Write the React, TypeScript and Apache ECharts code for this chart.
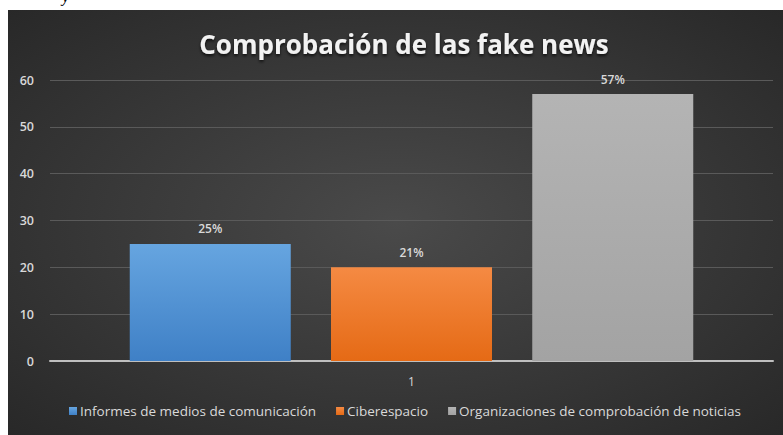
import React, { useEffect, useRef } from "react";
import * as echarts from "echarts";

const categories = ["1"];
const seriesNames = [
  "Informes de medios de comunicación",
  "Ciberespacio",
  "Organizaciones de comprobación de noticias",
];
const seriesValues = [25, 20, 57];
const seriesLabels = ["25%", "21%", "57%"];
const yTicks = { min: 0, max: 60, interval: 10 };

const palette = [
  ["#66a5e0", "#3f80c6"],
  ["#f58a43", "#e56a15"],
  ["#b4b4b4", "#a3a3a3"],
];

export default function App() {
  const ref = useRef<HTMLDivElement>(null);
  useEffect(() => {
    if (!ref.current) return;
    const chart = echarts.init(ref.current, undefined, { renderer: "svg" });
    chart.setOption({
      animation: false,
      backgroundColor: {
        type: "radial",
        x: 0.5,
        y: 0.5,
        r: 0.75,
        colorStops: [
          { offset: 0, color: "#4a4a4a" },
          { offset: 1, color: "#262626" },
        ],
      },
      title: {
        text: "Comprobación de las fake news",
        left: 391,
        top: 16,
        textAlign: "center",
        textStyle: {
          color: "#f2f2f2",
          fontSize: 26,
          fontWeight: "bold",
          fontFamily: "Open Sans",
          textShadowColor: "rgba(0,0,0,0.7)",
          textShadowBlur: 3,
          textShadowOffsetY: 2,
        },
      },
      legend: {
        bottom: 12,
        left: 56,
        itemWidth: 8,
        itemHeight: 8,
        itemGap: 20,
        icon: "rect",
        textStyle: { color: "#d9d9d9", fontSize: 13.5, fontFamily: "Open Sans", padding: [0, 0, 0, -2] },
        data: seriesNames,
      },
      grid: { left: 42, right: 10, top: 70, bottom: 74 },
      xAxis: {
        type: "category",
        data: categories,
        axisLine: { lineStyle: { color: "#bfbfbf", width: 2 } },
        axisTick: { show: false },
        axisLabel: { color: "#d9d9d9", fontSize: 12, margin: 14, fontFamily: "Open Sans" },
      },
      yAxis: {
        type: "value",
        min: yTicks.min,
        max: yTicks.max,
        interval: yTicks.interval,
        axisLine: { show: false },
        axisTick: { show: false },
        axisLabel: { color: "#d9d9d9", fontSize: 12.5, margin: 16, fontFamily: "Open Sans", fontWeight: 600 },
        splitLine: { lineStyle: { color: "#5a5a5a", width: 1 } },
      },
      series: seriesNames.map((name, i) => ({
        name,
        type: "bar",
        barWidth: 161,
        barGap: "25%",
        data: [seriesValues[i]],
        itemStyle: {
          color: new echarts.graphic.LinearGradient(0, 0, 0, 1, [
            { offset: 0, color: palette[i][0] },
            { offset: 1, color: palette[i][1] },
          ]),
        },
        label: {
          show: true,
          position: "top",
          distance: 9,
          formatter: () => seriesLabels[i],
          color: "#d9d9d9",
          fontSize: 12,
          fontWeight: 600,
          fontFamily: "Open Sans",
        },
      })),
    });
    return () => chart.dispose();
  }, []);
  return (
    <div
      style={{
        position: "absolute",
        left: 0,
        top: 0,
        width: 783,
        height: 435,
        background: "#ffffff",
        overflow: "hidden",
      }}
    >
      <span
        style={{
          position: "absolute",
          left: 62,
          top: -12,
          fontStyle: "italic",
          fontSize: 16,
          fontFamily: "serif",
          color: "#000",
        }}
      >
        y
      </span>
      <div
        ref={ref}
        style={{ position: "absolute", left: 8, top: 10, width: 775, height: 425 }}
      />
    </div>
  );
}
